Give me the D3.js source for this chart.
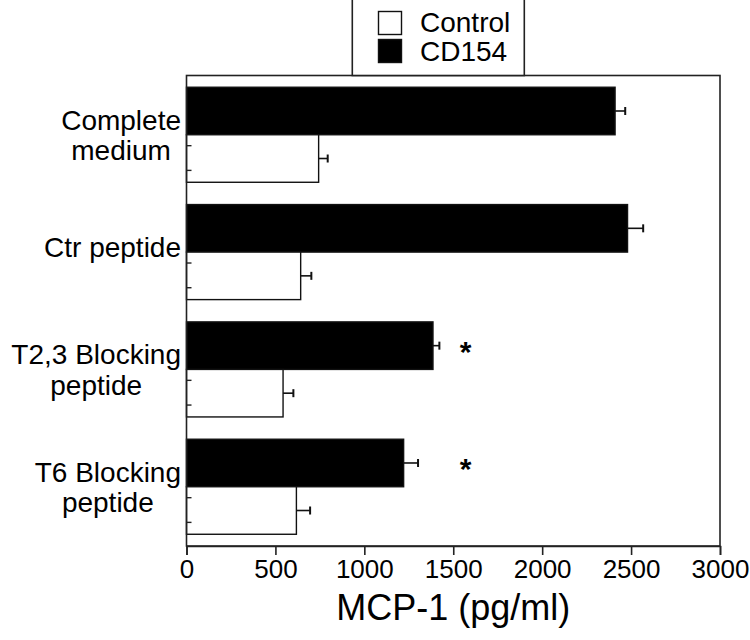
<!DOCTYPE html>
<html>
<head>
<meta charset="utf-8">
<script src="https://cdn.jsdelivr.net/npm/d3@7"></script>
<style>
  html, body { margin: 0; padding: 0; background: #fff; }
  svg { display: block; }
  text { font-family: "Liberation Sans", Arial, Helvetica, sans-serif; fill: #000; }
</style>
</head>
<body>
<svg id="chart" width="750" height="640"></svg>
<script>
// ---- data ----
const categories = ["Complete medium", "Ctr peptide", "T2,3 Blocking peptide", "T6 Blocking peptide"];
const categoryLines = [["Complete", "medium"], ["Ctr peptide"], ["T2,3 Blocking", "peptide"], ["T6 Blocking", "peptide"]];
const seriesNames = ["Control", "CD154"];
const cd154Values = [2410, 2480, 1386, 1221];
const cd154Errors = [57, 88, 36, 81];
const controlValues = [743, 642, 543, 618];
const controlErrors = [51, 60, 58, 77];
const significant = [false, false, true, true];
const starValue = 1570;
const xTickValues = [0, 500, 1000, 1500, 2000, 2500, 3000];
const xDomain = [0, 3000];
const xTitle = "MCP-1 (pg/ml)";

// ---- layout ----
const svg = d3.select("#chart");
const L = 186.5, R = 720, T = 75.5, B = 546;

const x = d3.scaleLinear().domain(xDomain).range([L, R]);
const y = d3.scaleBand().domain(categories).range([T, B]).paddingInner(0.19).paddingOuter(0.1);
const sub = d3.scaleBand().domain(["CD154", "Control"]).range([0, y.bandwidth()]);

const rows = categories.map((c, i) => ({
  cat: c, lines: categoryLines[i],
  cd: cd154Values[i], cdErr: cd154Errors[i],
  ct: controlValues[i], ctErr: controlErrors[i],
  sig: significant[i]
}));

const g = svg.append("g");

// bars
const bars = [];
rows.forEach(r => {
  bars.push({cat: r.cat, s: "CD154", v: r.cd, e: r.cdErr});
  bars.push({cat: r.cat, s: "Control", v: r.ct, e: r.ctErr});
});

g.selectAll("rect.bar").data(bars).join("rect")
  .attr("class", "bar")
  .attr("x", x(0))
  .attr("y", d => y(d.cat) + sub(d.s))
  .attr("width", d => x(d.v) - x(0))
  .attr("height", sub.bandwidth())
  .attr("fill", d => d.s === "CD154" ? "#000" : "#fff")
  .attr("stroke", "#111")
  .attr("stroke-width", 1.4);

// error bars
const capH = 8;
g.selectAll("line.err").data(bars).join("line")
  .attr("class", "err")
  .attr("x1", d => x(d.v)).attr("x2", d => x(d.v + d.e))
  .attr("y1", d => y(d.cat) + sub(d.s) + sub.bandwidth() / 2)
  .attr("y2", d => y(d.cat) + sub(d.s) + sub.bandwidth() / 2)
  .attr("stroke", "#111").attr("stroke-width", 1.6);
g.selectAll("line.cap").data(bars).join("line")
  .attr("class", "cap")
  .attr("x1", d => x(d.v + d.e)).attr("x2", d => x(d.v + d.e))
  .attr("y1", d => y(d.cat) + sub(d.s) + sub.bandwidth() / 2 - capH / 2)
  .attr("y2", d => y(d.cat) + sub(d.s) + sub.bandwidth() / 2 + capH / 2)
  .attr("stroke", "#111").attr("stroke-width", 2);

// significance stars
g.selectAll("text.star").data(rows.filter(r => r.sig)).join("text")
  .attr("class", "star")
  .attr("x", x(starValue))
  .attr("y", d => y(d.cat) + sub("CD154") + sub.bandwidth() / 2 + 16)
  .attr("text-anchor", "middle")
  .style("font-size", "30px")
  .style("font-weight", "bold")
  .text("*");

// frame
g.append("rect")
  .attr("x", L).attr("y", T).attr("width", R - L).attr("height", B - T)
  .attr("fill", "none").attr("stroke", "#222").attr("stroke-width", 1.6);

// x axis
const xAxis = d3.axisBottom(x).tickValues(xTickValues).tickSize(9).tickPadding(5).tickFormat(d3.format("d"));
const xg = svg.append("g").attr("transform", `translate(0,${B})`).call(xAxis);
xg.select(".domain").attr("stroke", "#222").attr("stroke-width", 1.6);
xg.selectAll(".tick line").attr("stroke", "#222").attr("stroke-width", 1.6);
xg.selectAll(".tick text")
  .style("font-family", "'Liberation Sans', Arial, Helvetica, sans-serif")
  .style("font-size", "26px").attr("fill", "#000");

// small inward left ticks within control bars
const leftTickFrac = [0.23, 0.75];
const lt = [];
rows.forEach(r => leftTickFrac.forEach(f => lt.push(y(r.cat) + sub("Control") + f * sub.bandwidth())));
g.selectAll("line.lt").data(lt).join("line")
  .attr("class", "lt")
  .attr("x1", L).attr("x2", L + 5)
  .attr("y1", d => d).attr("y2", d => d)
  .attr("stroke", "#222").attr("stroke-width", 1.4);

// category labels (multi-line centered, block right aligned)
const labelRight = 181;
rows.forEach(r => {
  const cy = y(r.cat) + y.bandwidth() / 2;
  const tg = svg.append("g");
  const texts = r.lines.map((ln, k) => tg.append("text")
    .style("font-size", "28px")
    .attr("y", r.lines.length === 1 ? cy + 5 : cy - 5 + k * 30.5)
    .text(ln));
  const widths = texts.map(t => t.node().getComputedTextLength());
  const maxW = d3.max(widths);
  texts.forEach(t => t.attr("x", labelRight - maxW / 2).attr("text-anchor", "middle"));
});

// x title
svg.append("text")
  .attr("x", (L + R) / 2).attr("y", 620)
  .attr("text-anchor", "middle")
  .style("font-size", "36px")
  .text(xTitle);

// legend
const lg = svg.append("g");
lg.append("rect").attr("x", 352.3).attr("y", -2).attr("width", 172).attr("height", T + 2)
  .attr("fill", "#fff").attr("stroke", "#222").attr("stroke-width", 1.6);
const legendFill = {"Control": "#fff", "CD154": "#000"};
seriesNames.forEach((s, i) => {
  lg.append("rect").attr("x", 378.5).attr("y", 11.5 + i * 28).attr("width", 23).attr("height", 23)
    .attr("fill", legendFill[s]).attr("stroke", "#111").attr("stroke-width", 1.4);
  lg.append("text").attr("x", 420).attr("y", 32 + i * 28.5)
    .style("font-size", "28px").text(s);
});
</script>
</body>
</html>
